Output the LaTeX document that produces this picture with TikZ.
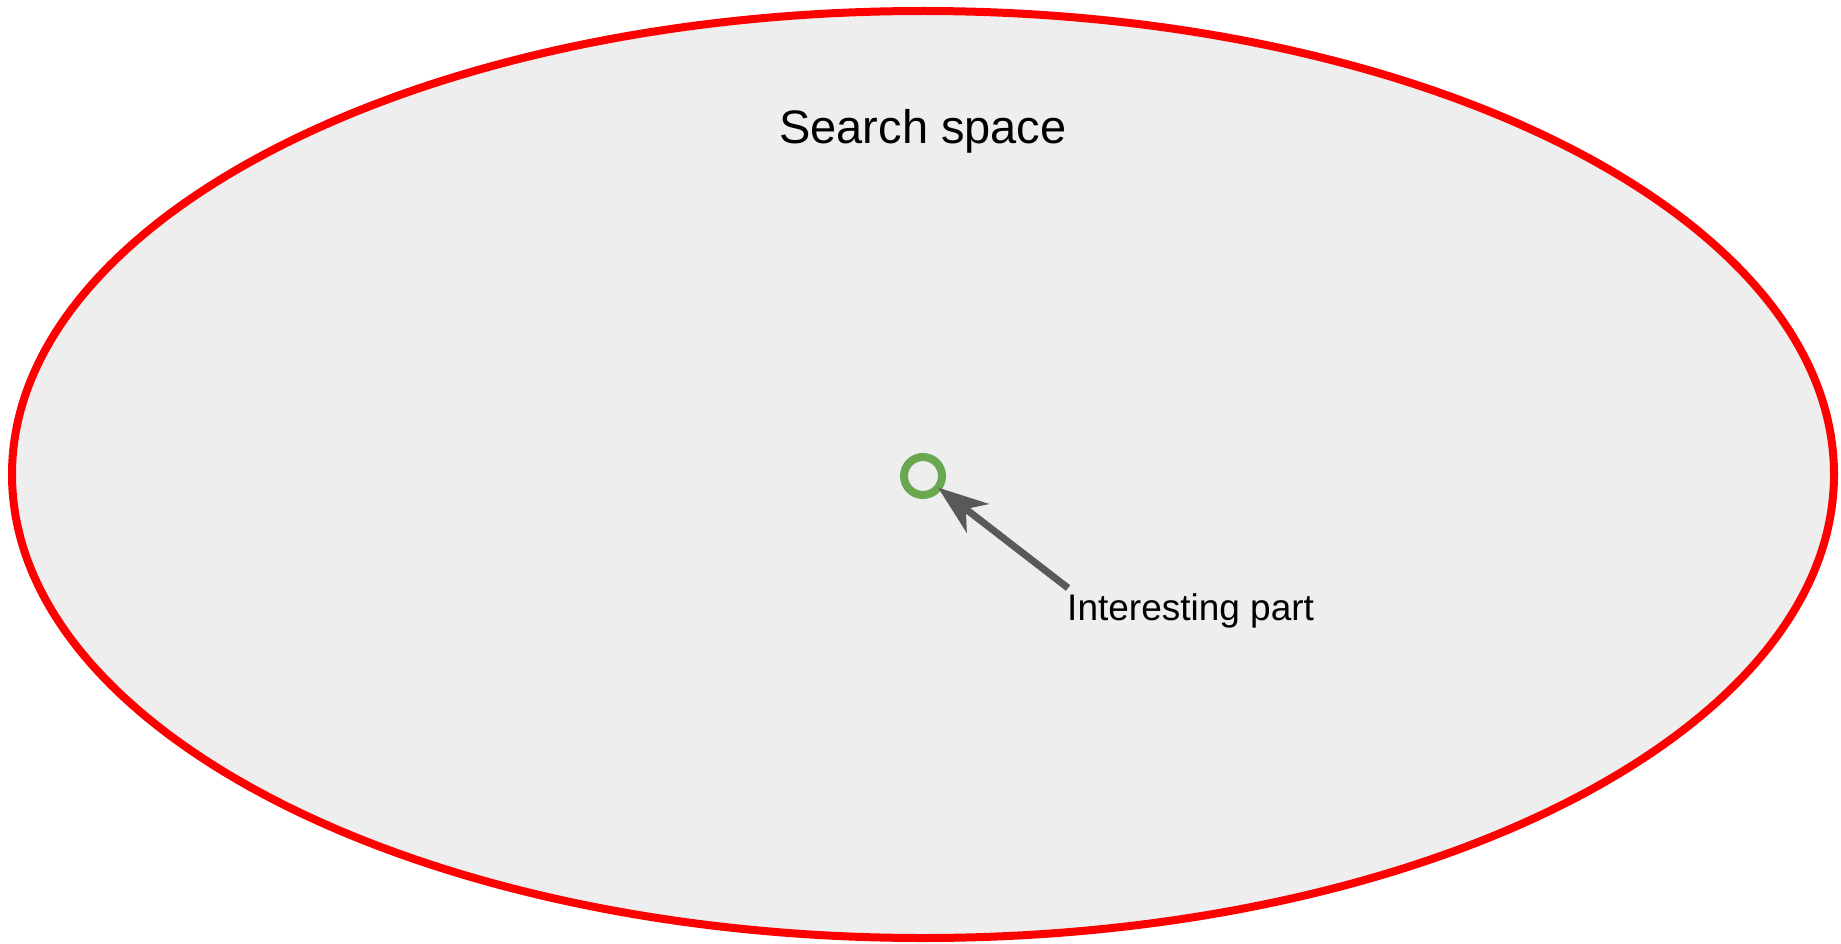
\documentclass[tikz,border=0pt]{standalone}
\usepackage{fontspec}
\setmainfont{Liberation Sans}
\usetikzlibrary{arrows.meta,shapes.geometric}
\definecolor{spacefill}{HTML}{EEEEEE}
\definecolor{spaceline}{HTML}{FF0000}
\definecolor{partline}{HTML}{6AA84F}
\definecolor{arrowcol}{HTML}{595959}
\tikzset{
  spacebox/.style={ellipse, draw=spaceline, fill=spacefill, line width=8pt,
    minimum width=1822pt, minimum height=927pt, inner sep=0pt, outer sep=0pt},
  partmark/.style={circle, draw=partline, fill=spacefill, line width=8pt,
    minimum size=38pt, inner sep=0pt, outer sep=0pt},
  pointer/.style={draw=arrowcol, line width=7pt,
    -{Stealth[length=50pt, width=36pt, inset=15pt, fill=arrowcol]}},
  bigtext/.style={font=\fontsize{47}{56}\selectfont, inner sep=0pt},
  smalltext/.style={font=\fontsize{37}{44}\selectfont, inner sep=0pt}
}
\begin{document}
\begin{tikzpicture}[x=1pt,y=-1pt]
\useasboundingbox[fill=white] (0,0) rectangle (1841,944);
\node[spacebox] (space) at (923,474.5) {};
\node[bigtext, anchor=base] (title) at (923,144) {Search space};
\node[partmark] (part) at (923,476) {};
\node[smalltext, anchor=base west] (lbl) at (1067,620) {Interesting part};
\coordinate (tail) at (1068,588);
\draw[pointer] (tail) -- (part);
\end{tikzpicture}
\end{document}
